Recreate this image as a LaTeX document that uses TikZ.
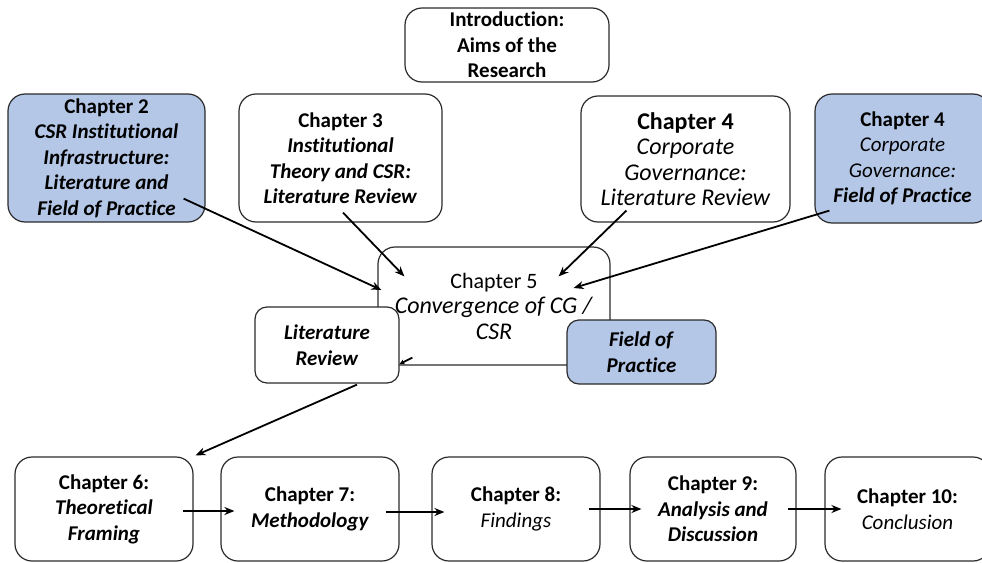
\documentclass[tikz,border=0pt]{standalone}
\usepackage{fontspec}
\setmainfont{Carlito}[Ligatures=NoCommon]
\usetikzlibrary{arrows.meta}
\definecolor{boxblue}{HTML}{B4C7E7}
\definecolor{edge}{HTML}{2B2B2B}
\begin{document}
\begin{tikzpicture}[x=1pt,y=-1pt,
  box/.style={draw=edge, line width=1.2pt, rounded corners=17pt, fill=white,
    align=center, inner sep=0pt, font=\fontsize{21}{25.5}\selectfont},
  bigtext/.style={font=\fontsize{24}{25.5}\selectfont},
  smallbox/.style={box, rounded corners=12pt},
  bluefill/.style={fill=boxblue},
  arr/.style={draw=black, line width=1.8pt, -{Stealth[length=10pt,width=8pt]}},
]
\useasboundingbox (0,0) rectangle (982,562);

% top row
\node[box, minimum width=204pt, minimum height=74pt] (intro) at (507,45)
  {\textbf{Introduction:}\\\textbf{Aims of the}\\\textbf{Research}};
\node[box, bluefill, minimum width=197pt, minimum height=128pt] (ch2) at (106.5,158)
  {\textbf{Chapter 2}\\\textbf{\textit{CSR Institutional}}\\\textbf{\textit{Infrastructure:}}\\\textbf{\textit{Literature and}}\\\textbf{\textit{Field of Practice}}};
\node[box, minimum width=203pt, minimum height=128pt] (ch3) at (340.5,158)
  {\textbf{Chapter 3}\\\textbf{\textit{Institutional}}\\\textbf{\textit{Theory and CSR:}}\\\textbf{\textit{Literature Review}}};
\node[box, bigtext, minimum width=209pt, minimum height=126pt] (ch4) at (685.5,159)
  {\textbf{Chapter 4}\\\textit{Corporate}\\\textit{Governance:}\\\textit{Literature Review}};
\node[box, bluefill, minimum width=175pt, minimum height=129pt] (ch4b) at (902.5,158.5)
  {\textbf{Chapter 4}\\\textit{Corporate}\\\textit{Governance:}\\\textbf{\textit{Field of Practice}}};

% convergence box with its two side boxes
\node[box, bigtext, minimum width=232pt, minimum height=118pt] (ch5) at (494,306)
  {{\fontsize{22}{25.5}\selectfont Chapter 5}\\\textit{Convergence of CG /}\\\textit{CSR}};
\node[smallbox, minimum width=144pt, minimum height=76pt] (lit) at (327,345)
  {\textbf{\textit{Literature}}\\\textbf{\textit{Review}}};
\node[smallbox, bluefill, minimum width=149pt, minimum height=64pt] (fop) at (641.5,352)
  {\textbf{\textit{Field of}}\\\textbf{\textit{Practice}}};

% bottom row
\node[box, minimum width=178pt, minimum height=104pt] (ch6) at (104,509)
  {\textbf{Chapter 6:}\\\textbf{\textit{Theoretical}}\\\textbf{\textit{Framing}}};
\node[box, minimum width=178pt, minimum height=104pt] (ch7) at (310,509)
  {\textbf{Chapter 7:}\\\textbf{\textit{Methodology}}};
\node[box, minimum width=168pt, minimum height=104pt] (ch8) at (516,509)
  {\textbf{Chapter 8:}\\\textit{Findings}};
\node[box, minimum width=166pt, minimum height=104pt] (ch9) at (713,509)
  {\textbf{Chapter 9:}\\\textbf{\textit{Analysis and}}\\\textbf{\textit{Discussion}}};
\node[box, minimum width=165pt, minimum height=104pt] (ch10) at (907.5,509)
  {\textbf{Chapter 10:}\\\textit{Conclusion}};

% feeds into the convergence chapter
\draw[arr] ([shift={(-22,-24)}]ch2.south east) -- ([shift={(4,-16)}]ch5.west);
\draw[arr] ([shift={(2.5,-10)}]ch3.south) -- ([shift={(27,30)}]ch5.north west);
\draw[arr] ([shift={(46,-12)}]ch4.south west) -- ([shift={(-52,30)}]ch5.north east);
\draw[arr] ([shift={(15,-13)}]ch4b.south west) -- ([shift={(-37,-18)}]ch5.east);
\draw[line width=1.8pt, -{Stealth[length=5pt,width=5pt]}]
  ([shift={(35,-8)}]ch5.south west) -- ([shift={(0,19)}]lit.east);
\draw[arr] ([shift={(30,1)}]lit.south) -- ([shift={(2,-1)}]ch6.north east);

% chapter sequence
\draw[arr] ([shift={(-11,2)}]ch6.east) -- ([shift={(14,2)}]ch7.west);
\draw[arr] ([shift={(-14,3)}]ch7.east) -- ([shift={(13,3)}]ch8.west);
\draw[arr] ([shift={(-12,0)}]ch8.east) -- ([shift={(12,0)}]ch9.west);
\draw[arr] ([shift={(-9,0)}]ch9.east) -- ([shift={(17,0)}]ch10.west);
\end{tikzpicture}
\end{document}
